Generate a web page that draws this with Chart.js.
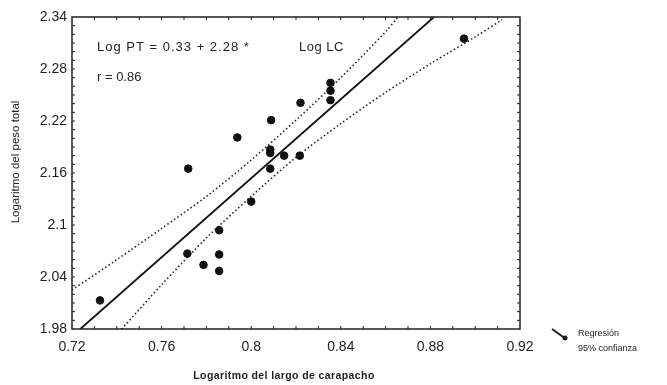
<!DOCTYPE html>
<html>
<head>
<meta charset="utf-8">
<script src="https://cdn.jsdelivr.net/npm/chart.js@4.4.1/dist/chart.umd.min.js"></script>
<style>
  body { margin: 0; background: #fff; }
  canvas { display: block; }
</style>
</head>
<body>
<canvas id="chart" width="667" height="385"></canvas>
<script>
// observed points - log carapace length vs log total weight
const logLC = [0.7325, 0.7719, 0.7715, 0.7787, 0.7857, 0.7857, 0.7857, 0.7938, 0.8000, 0.8089,
               0.8085, 0.8085, 0.8085, 0.8147, 0.8217, 0.8220, 0.8354, 0.8354, 0.8354, 0.8950];
const logPT = [2.013, 2.165, 2.067, 2.054, 2.094, 2.066, 2.047, 2.201, 2.127, 2.221,
               2.187, 2.183, 2.165, 2.180, 2.180, 2.241, 2.264, 2.255, 2.244, 2.315];

// regression line, read where it meets the frame
const regX = [0.7237, 0.8816];
const regY = [1.98, 2.34];

// 95% confidence bands
const upperX = [0.72, 0.74, 0.76, 0.78, 0.80, 0.82, 0.84, 0.86, 0.8655];
const upperY = [2.025, 2.060, 2.096, 2.133, 2.175, 2.221, 2.270, 2.323, 2.34];
const lowerX = [0.7422, 0.76, 0.78, 0.80, 0.82, 0.84, 0.86, 0.88, 0.90, 0.912];
const lowerY = [1.98, 2.031, 2.085, 2.133, 2.178, 2.217, 2.253, 2.286, 2.317, 2.337];

// axis ticks
const xTicks = [0.72, 0.76, 0.8, 0.84, 0.88, 0.92];
const yTicks = [1.98, 2.04, 2.1, 2.16, 2.22, 2.28, 2.34];

const pts = (xs, ys) => xs.map((x, i) => ({ x: x, y: ys[i] }));
const ink = '#1e1e1e';
const fam = '"Liberation Sans", Arial, sans-serif';

// frame, little inside ticks, the equation and the legend - all drawn on top
const decor = {
    id: 'decor',
    afterDraw(chart) {
        const ctx = chart.ctx;
        const a = chart.chartArea;
        const xs = chart.scales.x, ys = chart.scales.y;
        ctx.save();
        ctx.strokeStyle = ink;
        ctx.lineWidth = 1.5;
        ctx.strokeRect(a.left, a.top, a.right - a.left, a.bottom - a.top);

        // minor ticks every 0.01 pointing inward
        ctx.lineWidth = 1;
        ctx.beginPath();
        for (let v = 0.73; v < 0.9199; v += 0.01) {
            const px = xs.getPixelForValue(v);
            ctx.moveTo(px, a.bottom); ctx.lineTo(px, a.bottom - 3);
            ctx.moveTo(px, a.top); ctx.lineTo(px, a.top + 3);
        }
        for (let v = 1.99; v < 2.3399; v += 0.01) {
            const py = ys.getPixelForValue(v);
            ctx.moveTo(a.left, py); ctx.lineTo(a.left + 3, py);
            ctx.moveTo(a.right, py); ctx.lineTo(a.right - 3, py);
        }
        ctx.stroke();

        ctx.fillStyle = ink;
        ctx.textBaseline = 'middle';
        ctx.textAlign = 'left';
        ctx.font = '13px ' + fam;
        ctx.letterSpacing = '1px';
        ctx.fillText('Log PT = 0.33 + 2.28 *', 97, 47);
        ctx.letterSpacing = '0.5px';
        ctx.fillText('Log LC', 299, 47);
        ctx.letterSpacing = '0px';
        ctx.fillText('r = 0.86', 97, 77);

        // axis titles
        ctx.font = 'bold 10.5px ' + fam;
        ctx.letterSpacing = '0.4px';
        ctx.textAlign = 'center';
        ctx.fillText('Logaritmo del largo de carapacho', 284, 376);
        ctx.letterSpacing = '0px';
        ctx.save();
        ctx.translate(16, 162);
        ctx.rotate(-Math.PI / 2);
        ctx.font = '11.5px ' + fam;
        ctx.fillText('Logaritmo del peso total', 0, 0);
        ctx.restore();

        // legend
        ctx.lineWidth = 2;
        ctx.beginPath();
        ctx.moveTo(552, 329);
        ctx.lineTo(566, 339);
        ctx.stroke();
        ctx.beginPath();
        ctx.arc(565, 338, 2.5, 0, Math.PI * 2);
        ctx.fill();
        ctx.textAlign = 'left';
        ctx.font = '9px ' + fam;
        ctx.fillText('Regresión', 578, 334);
        ctx.fillText('95% confianza', 578, 349);
        ctx.restore();
    }
};

new Chart(document.getElementById('chart'), {
    type: 'scatter',
    data: {
        datasets: [
            {
                label: 'Datos',
                data: pts(logLC, logPT),
                backgroundColor: '#111',
                borderColor: '#111',
                pointRadius: 3.8,
                pointHoverRadius: 3.8
            },
            {
                label: 'Regresión',
                data: pts(regX, regY),
                showLine: true,
                borderColor: '#111',
                borderWidth: 1.8,
                pointRadius: 0
            },
            {
                label: '95% confianza',
                data: pts(upperX, upperY),
                showLine: true,
                borderColor: '#222',
                borderWidth: 1.6,
                borderDash: [1.5, 2.5],
                tension: 0.3,
                pointRadius: 0
            },
            {
                label: '95% confianza inf',
                data: pts(lowerX, lowerY),
                showLine: true,
                borderColor: '#222',
                borderWidth: 1.6,
                borderDash: [1.5, 2.5],
                tension: 0.3,
                pointRadius: 0
            }
        ]
    },
    options: {
        responsive: false,
        animation: false,
        devicePixelRatio: 1,
        layout: { padding: { top: 17, right: 147, left: 0, bottom: 0 } },
        plugins: {
            legend: { display: false },
            tooltip: { enabled: false }
        },
        scales: {
            x: {
                type: 'linear',
                min: 0.72,
                max: 0.92,
                grid: { display: false, drawTicks: false },
                border: { display: false },
                afterBuildTicks: (s) => { s.ticks = xTicks.map(v => ({ value: v })); },
                afterFit: (s) => { s.height = 56; },
                ticks: {
                    color: ink,
                    padding: 10,
                    font: { size: 14, family: fam },
                    callback: (v) => String(v)
                }
            },
            y: {
                type: 'linear',
                min: 1.98,
                max: 2.34,
                grid: { display: false, drawTicks: false },
                border: { display: false },
                afterBuildTicks: (s) => { s.ticks = yTicks.map(v => ({ value: v })); },
                afterFit: (s) => { s.width = 72; },
                ticks: {
                    color: ink,
                    padding: 5,
                    font: { size: 14, family: fam },
                    callback: (v) => String(v)
                }
            }
        }
    },
    plugins: [decor]
});
</script>
</body>
</html>
